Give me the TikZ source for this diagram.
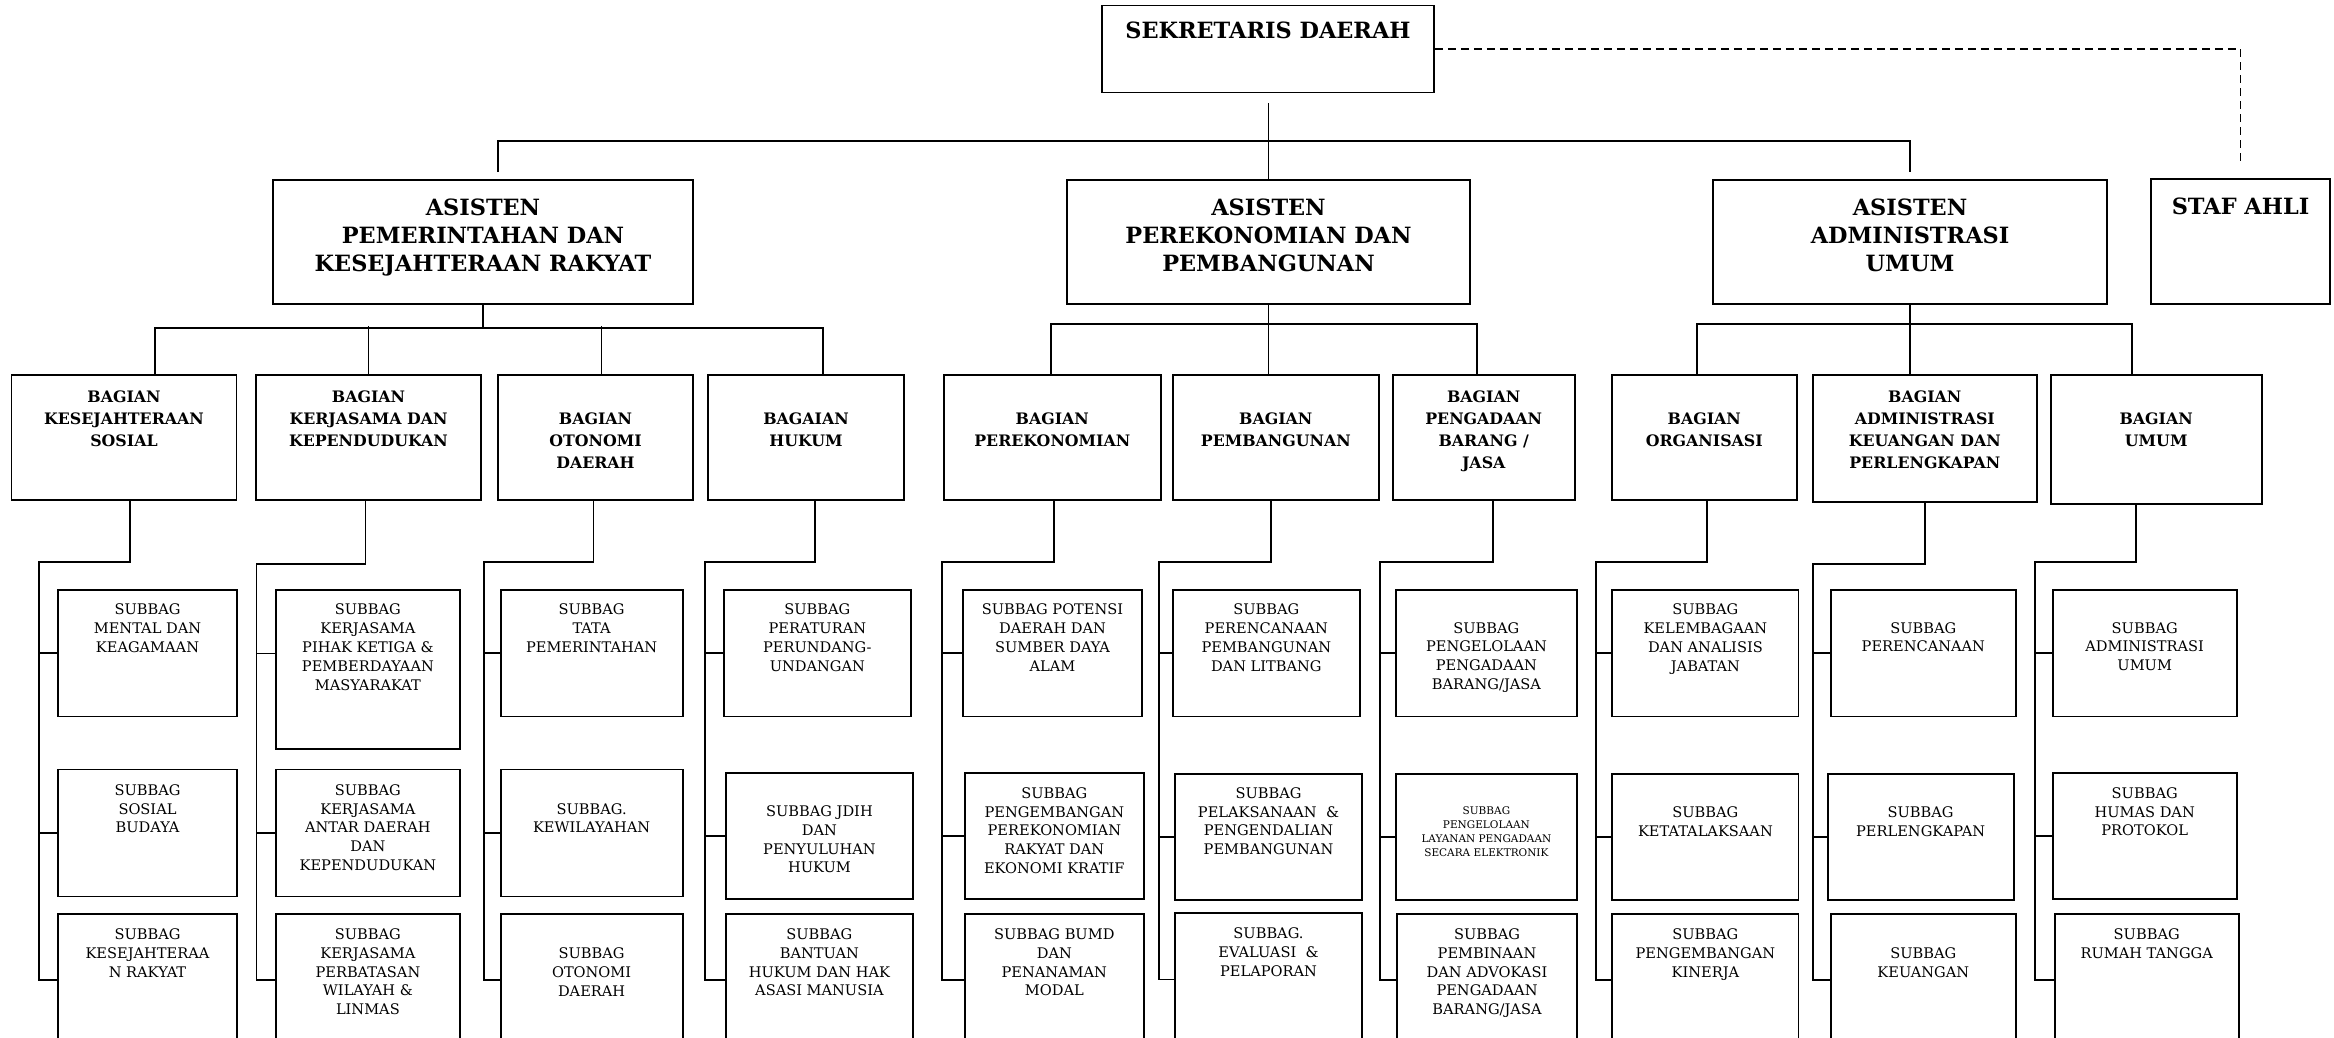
\documentclass[tikz,border=0pt]{standalone}
\usepackage{fontspec}
\setmainfont{DejaVu Serif}
\usepackage{tikz}

\begin{document}
\begin{tikzpicture}[x=1pt,y=-1pt]
    \tikzstyle{box}=[draw,rectangle,line width=1.9pt,inner sep=0pt]
    \tikzstyle{htext}=[align=center,anchor=north,inner sep=0pt,font=\fontsize{22.4}{28}\selectfont\bfseries]
    \tikzstyle{btext}=[align=center,anchor=north,inner sep=0pt,font=\fontsize{15.8}{22}\selectfont\bfseries]
    \tikzstyle{stext}=[align=center,anchor=north,inner sep=0pt,font=\fontsize{14.6}{18.8}\selectfont]
    \tikzstyle{ttext}=[align=center,anchor=north,inner sep=0pt,font=\fontsize{10.5}{14}\selectfont]
    \tikzstyle{conn}=[line width=1.7pt]
    \tikzstyle{bus}=[line width=2.2pt]

    \useasboundingbox (0,0) rectangle (2334,1037);
    \clip (0,0) rectangle (2334,1037);
    \fill[white] (0,0) rectangle (2334,1037);

    % pimpinan
    \node[box,minimum width=332pt,minimum height=87pt] (SEKDA) at (1268,49) {};
    \node[htext] (SEKDAt) at ([yshift=-17.6pt]SEKDA.north) {SEKRETARIS DAERAH};
    \node[box,minimum width=420pt,minimum height=124pt] (AS1) at (483,242) {};
    \node[htext] (AS1t) at ([yshift=-19.5pt]AS1.north) {ASISTEN\\PEMERINTAHAN DAN\\KESEJAHTERAAN RAKYAT};
    \node[box,minimum width=403pt,minimum height=124pt] (AS2) at (1268.5,242) {};
    \node[htext] (AS2t) at ([yshift=-19.5pt]AS2.north) {ASISTEN\\PEREKONOMIAN DAN\\PEMBANGUNAN};
    \node[box,minimum width=394pt,minimum height=124pt] (AS3) at (1910,242) {};
    \node[htext] (AS3t) at ([yshift=-19.5pt]AS3.north) {ASISTEN\\ADMINISTRASI\\UMUM};
    \node[box,minimum width=179pt,minimum height=125pt] (STAF) at (2240.5,241.5) {};
    \node[htext] (STAFt) at ([yshift=-20pt]STAF.north) {STAF AHLI};

    % bagian
    \node[box,minimum width=225pt,minimum height=125pt] (BG1) at (124,437.5) {};
    \node[btext] (BG1t) at ([yshift=-16.7pt]BG1.north) {BAGIAN\\KESEJAHTERAAN\\SOSIAL};
    \node[box,minimum width=225pt,minimum height=125pt] (BG2) at (368.5,437.5) {};
    \node[btext] (BG2t) at ([yshift=-16.7pt]BG2.north) {BAGIAN\\KERJASAMA DAN\\KEPENDUDUKAN};
    \node[box,minimum width=195pt,minimum height=125pt] (BG3) at (595.5,437.5) {};
    \node[btext] (BG3t) at ([yshift=-39pt]BG3.north) {BAGIAN\\OTONOMI\\DAERAH};
    \node[box,minimum width=196pt,minimum height=125pt] (BG4) at (806,437.5) {};
    \node[btext] (BG4t) at ([yshift=-39pt]BG4.north) {BAGAIAN\\HUKUM};
    \node[box,minimum width=217.4pt,minimum height=125pt] (BG5) at (1052.3,437.5) {};
    \node[btext] (BG5t) at ([yshift=-39pt]BG5.north) {BAGIAN\\PEREKONOMIAN};
    \node[box,minimum width=205.6pt,minimum height=125pt] (BG6) at (1275.8,437.5) {};
    \node[btext] (BG6t) at ([yshift=-39pt]BG6.north) {BAGIAN\\PEMBANGUNAN};
    \node[box,minimum width=181.8pt,minimum height=125pt] (BG7) at (1483.7,437.5) {};
    \node[btext] (BG7t) at ([yshift=-16.7pt]BG7.north) {BAGIAN\\PENGADAAN\\BARANG /\\JASA};
    \node[box,minimum width=185.4pt,minimum height=125pt] (BG8) at (1704.3,437.5) {};
    \node[btext] (BG8t) at ([yshift=-39pt]BG8.north) {BAGIAN\\ORGANISASI};
    \node[box,minimum width=223.5pt,minimum height=127pt] (BG9) at (1924.8,438.5) {};
    \node[btext] (BG9t) at ([yshift=-16.7pt]BG9.north) {BAGIAN\\ADMINISTRASI\\KEUANGAN DAN\\PERLENGKAPAN};
    \node[box,minimum width=210.9pt,minimum height=129pt] (BG10) at (2156.2,439.5) {};
    \node[btext] (BG10t) at ([yshift=-39pt]BG10.north) {BAGIAN\\UMUM};

    % subbag
    \node[box,minimum width=179.5pt,minimum height=126.8pt] (SB11) at (147.5,653.1) {};
    \node[stext] (SB11t) at ([yshift=-15pt]SB11.north) {SUBBAG\\MENTAL DAN\\KEAGAMAAN};
    \node[box,minimum width=179.5pt,minimum height=127pt] (SB12) at (147.5,833) {};
    \node[stext] (SB12t) at ([yshift=-15.6pt]SB12.north) {SUBBAG\\SOSIAL\\BUDAYA};
    \node[box,minimum width=179.5pt,minimum height=131.6pt] (SB13) at (147.5,980.2) {};
    \node[stext] (SB13t) at ([yshift=-15pt]SB13.north) {SUBBAG\\KESEJAHTERAA\\N RAKYAT};

    \node[box,minimum width=184.7pt,minimum height=159.3pt] (SB21) at (367.9,669.4) {};
    \node[stext] (SB21t) at ([yshift=-15pt]SB21.north) {SUBBAG\\KERJASAMA\\PIHAK KETIGA \&\\PEMBERDAYAAN\\MASYARAKAT};
    \node[box,minimum width=184.7pt,minimum height=127pt] (SB22) at (367.9,833) {};
    \node[stext] (SB22t) at ([yshift=-15.6pt]SB22.north) {SUBBAG\\KERJASAMA\\ANTAR DAERAH\\DAN\\KEPENDUDUKAN};
    \node[box,minimum width=184.7pt,minimum height=131.6pt] (SB23) at (367.9,980.2) {};
    \node[stext] (SB23t) at ([yshift=-15pt]SB23.north) {SUBBAG\\KERJASAMA\\PERBATASAN\\WILAYAH \&\\LINMAS};

    \node[box,minimum width=182.1pt,minimum height=126.8pt] (SB31) at (591.6,653.1) {};
    \node[stext] (SB31t) at ([yshift=-15pt]SB31.north) {SUBBAG\\TATA\\PEMERINTAHAN};
    \node[box,minimum width=182.1pt,minimum height=127pt] (SB32) at (591.6,833) {};
    \node[stext] (SB32t) at ([yshift=-34.5pt]SB32.north) {SUBBAG.\\KEWILAYAHAN};
    \node[box,minimum width=182.1pt,minimum height=131.6pt] (SB33) at (591.6,980.2) {};
    \node[stext] (SB33t) at ([yshift=-34pt]SB33.north) {SUBBAG\\OTONOMI\\DAERAH};

    \node[box,minimum width=186.6pt,minimum height=126.8pt] (SB41) at (817.3,653.1) {};
    \node[stext] (SB41t) at ([yshift=-15pt]SB41.north) {SUBBAG\\PERATURAN\\PERUNDANG-\\UNDANGAN};
    \node[box,minimum width=186.7pt,minimum height=126pt] (SB42) at (819.4,836) {};
    \node[stext] (SB42t) at ([yshift=-33.4pt]SB42.north) {SUBBAG JDIH\\DAN\\PENYULUHAN\\HUKUM};
    \node[box,minimum width=186.7pt,minimum height=131.6pt] (SB43) at (819.4,980.2) {};
    \node[stext] (SB43t) at ([yshift=-15pt]SB43.north) {SUBBAG\\BANTUAN\\HUKUM DAN HAK\\ASASI MANUSIA};

    \node[box,minimum width=179.5pt,minimum height=126.8pt] (SB51) at (1052.5,653.1) {};
    \node[stext] (SB51t) at ([yshift=-15pt]SB51.north) {SUBBAG POTENSI\\DAERAH DAN\\SUMBER DAYA\\ALAM};
    \node[box,minimum width=179.1pt,minimum height=126.4pt] (SB52) at (1054.3,836.2) {};
    \node[stext] (SB52t) at ([yshift=-15.2pt]SB52.north) {SUBBAG\\PENGEMBANGAN\\PEREKONOMIAN\\RAKYAT DAN\\EKONOMI KRATIF};
    \node[box,minimum width=179.1pt,minimum height=131.6pt] (SB53) at (1054.3,980.2) {};
    \node[stext] (SB53t) at ([yshift=-15pt]SB53.north) {SUBBAG BUMD\\DAN\\PENANAMAN\\MODAL};

    \node[box,minimum width=186.7pt,minimum height=126.8pt] (SB61) at (1266.3,653.1) {};
    \node[stext] (SB61t) at ([yshift=-15pt]SB61.north) {SUBBAG\\PERENCANAAN\\PEMBANGUNAN\\DAN LITBANG};
    \node[box,minimum width=186.2pt,minimum height=126pt] (SB62) at (1268.5,837) {};
    \node[stext] (SB62t) at ([yshift=-14.2pt]SB62.north) {SUBBAG\\PELAKSANAAN~ \&\\PENGENDALIAN\\PEMBANGUNAN};
    \node[box,minimum width=186.2pt,minimum height=133.4pt] (SB63) at (1268.5,979.4) {};
    \node[stext] (SB63t) at ([yshift=-16pt]SB63.north) {SUBBAG.\\EVALUASI~ \&\\PELAPORAN};

    \node[box,minimum width=181.2pt,minimum height=126.8pt] (SB71) at (1486.4,653.1) {};
    \node[stext] (SB71t) at ([yshift=-33.4pt]SB71.north) {SUBBAG\\PENGELOLAAN\\PENGADAAN\\BARANG/JASA};
    \node[box,minimum width=181.2pt,minimum height=126pt] (SB72) at (1486.4,837) {};
    \node[ttext] (SB72t) at ([yshift=-33pt]SB72.north) {SUBBAG\\PENGELOLAAN\\LAYANAN PENGADAAN\\SECARA ELEKTRONIK};
    \node[box,minimum width=180pt,minimum height=131.6pt] (SB73) at (1487,980.2) {};
    \node[stext] (SB73t) at ([yshift=-15pt]SB73.north) {SUBBAG\\PEMBINAAN\\DAN ADVOKASI\\PENGADAAN\\BARANG/JASA};

    \node[box,minimum width=186.1pt,minimum height=126.8pt] (SB81) at (1705.4,653.1) {};
    \node[stext] (SB81t) at ([yshift=-15pt]SB81.north) {SUBBAG\\KELEMBAGAAN\\DAN ANALISIS\\JABATAN};
    \node[box,minimum width=186.1pt,minimum height=126pt] (SB82) at (1705.4,837) {};
    \node[stext] (SB82t) at ([yshift=-33.4pt]SB82.north) {SUBBAG\\KETATALAKSAAN};
    \node[box,minimum width=186.1pt,minimum height=131.6pt] (SB83) at (1705.4,980.2) {};
    \node[stext] (SB83t) at ([yshift=-15pt]SB83.north) {SUBBAG\\PENGEMBANGAN\\KINERJA};

    \node[box,minimum width=185.5pt,minimum height=126.8pt] (SB91) at (1923.3,653.1) {};
    \node[stext] (SB91t) at ([yshift=-33.4pt]SB91.north) {SUBBAG\\PERENCANAAN};
    \node[box,minimum width=186.1pt,minimum height=126pt] (SB92) at (1920.6,837) {};
    \node[stext] (SB92t) at ([yshift=-33.4pt]SB92.north) {SUBBAG\\PERLENGKAPAN};
    \node[box,minimum width=185.5pt,minimum height=131.6pt] (SB93) at (1923.3,980.2) {};
    \node[stext] (SB93t) at ([yshift=-34pt]SB93.north) {SUBBAG\\KEUANGAN};

    \node[box,minimum width=184.1pt,minimum height=126.8pt] (SB101) at (2144.7,653.1) {};
    \node[stext] (SB101t) at ([yshift=-33.4pt]SB101.north) {SUBBAG\\ADMINISTRASI\\UMUM};
    \node[box,minimum width=184.1pt,minimum height=126pt] (SB102) at (2144.7,836) {};
    \node[stext] (SB102t) at ([yshift=-15.2pt]SB102.north) {SUBBAG\\HUMAS DAN\\PROTOKOL};
    \node[box,minimum width=184.1pt,minimum height=131.6pt] (SB103) at (2146.7,980.2) {};
    \node[stext] (SB103t) at ([yshift=-15pt]SB103.north) {SUBBAG\\RUMAH TANGGA};

    % garis komando
    \draw[conn] (AS2.north |- SEKDA.south) ++(0,10) -- (AS2.north);
    \coordinate (TOP) at (1270,141);
    \draw[bus] ([xshift=15pt,yshift=7pt]AS1.north) |- (TOP) -| ([yshift=7pt]AS3.north);
    \draw[conn,dash pattern=on 8pt off 5pt] (SEKDA.east) -| ([yshift=14pt]STAF.north);

    \path (AS1.south) ++(0,23) coordinate (G1);
    \draw[conn] (AS1.south) -- (G1);
    \draw[bus] ([xshift=31pt]BG1.north) |- (G1) -| ([xshift=17pt]BG4.north);
    \draw[conn] (BG2.north) -- ++(0,-48);
    \draw[conn] ([xshift=6pt]BG3.north) -- ++(0,-48);

    \path (AS2.south) ++(0,19) coordinate (G2);
    \draw[conn] (AS2.south) -- (AS2.south |- BG6.north);
    \draw[bus] ([xshift=-1pt]BG5.north) |- (G2) -| ([xshift=-7pt]BG7.north);

    \path (AS3.south) ++(0,19) coordinate (G3);
    \draw[conn] (AS3.south) -- (AS3.south |- BG9.north);
    \draw[bus] ([xshift=-7pt]BG8.north) |- (G3) -| ([xshift=-24pt]BG10.north);

    % garis subbag
    \coordinate (K1) at (39,562);
    \draw[conn] ([xshift=6pt]BG1.south) |- (K1) -- (K1 |- SB13.west) -- (SB13.west);
    \draw[conn] (K1 |- SB11.west) -- (SB11.west);
    \draw[conn] (K1 |- SB12.west) -- (SB12.west);

    \coordinate (K2) at (256.6,564);
    \draw[conn] ([xshift=-3pt]BG2.south) |- (K2) -- (K2 |- SB23.west) -- (SB23.west);
    \draw[conn] ([yshift=16pt]SB21.west) -- ++(-19,0);
    \draw[conn] (K2 |- SB22.west) -- (SB22.west);

    \coordinate (K3) at (483.7,562);
    \draw[conn] ([xshift=-2pt]BG3.south) |- (K3) -- (K3 |- SB33.west) -- (SB33.west);
    \draw[conn] (K3 |- SB31.west) -- (SB31.west);
    \draw[conn] (K3 |- SB32.west) -- (SB32.west);

    \coordinate (K4) at (705,562);
    \draw[conn] ([xshift=9pt]BG4.south) |- (K4) -- (K4 |- SB43.west) -- (SB43.west);
    \draw[conn] (K4 |- SB41.west) -- (SB41.west);
    \draw[conn] (K4 |- SB42.west) -- (SB42.west);

    \coordinate (K5) at (942,562);
    \draw[conn] ([xshift=2pt]BG5.south) |- (K5) -- (K5 |- SB53.west) -- (SB53.west);
    \draw[conn] (K5 |- SB51.west) -- (SB51.west);
    \draw[conn] (K5 |- SB52.west) -- (SB52.west);

    \coordinate (K6) at (1159,562);
    \draw[conn] ([xshift=-4.5pt]BG6.south) |- (K6) -- (K6 |- SB63.west) -- (SB63.west);
    \draw[conn] (K6 |- SB61.west) -- (SB61.west);
    \draw[conn] (K6 |- SB62.west) -- (SB62.west);

    \coordinate (K7) at (1380,562);
    \draw[conn] ([xshift=9pt]BG7.south) |- (K7) -- (K7 |- SB73.west) -- (SB73.west);
    \draw[conn] (K7 |- SB71.west) -- (SB71.west);
    \draw[conn] (K7 |- SB72.west) -- (SB72.west);

    \coordinate (K8) at (1596,562);
    \draw[conn] ([xshift=3pt]BG8.south) |- (K8) -- (K8 |- SB83.west) -- (SB83.west);
    \draw[conn] (K8 |- SB81.west) -- (SB81.west);
    \draw[conn] (K8 |- SB82.west) -- (SB82.west);

    \coordinate (K9) at (1813,564);
    \draw[conn] (BG9.south) |- (K9) -- (K9 |- SB93.west) -- (SB93.west);
    \draw[conn] (K9 |- SB91.west) -- (SB91.west);
    \draw[conn] (K9 |- SB92.west) -- (SB92.west);

    \coordinate (K10) at (2035,562);
    \draw[conn] ([xshift=-20pt]BG10.south) |- (K10) -- (K10 |- SB103.west) -- (SB103.west);
    \draw[conn] (K10 |- SB101.west) -- (SB101.west);
    \draw[conn] (K10 |- SB102.west) -- (SB102.west);
\end{tikzpicture}
\end{document}
